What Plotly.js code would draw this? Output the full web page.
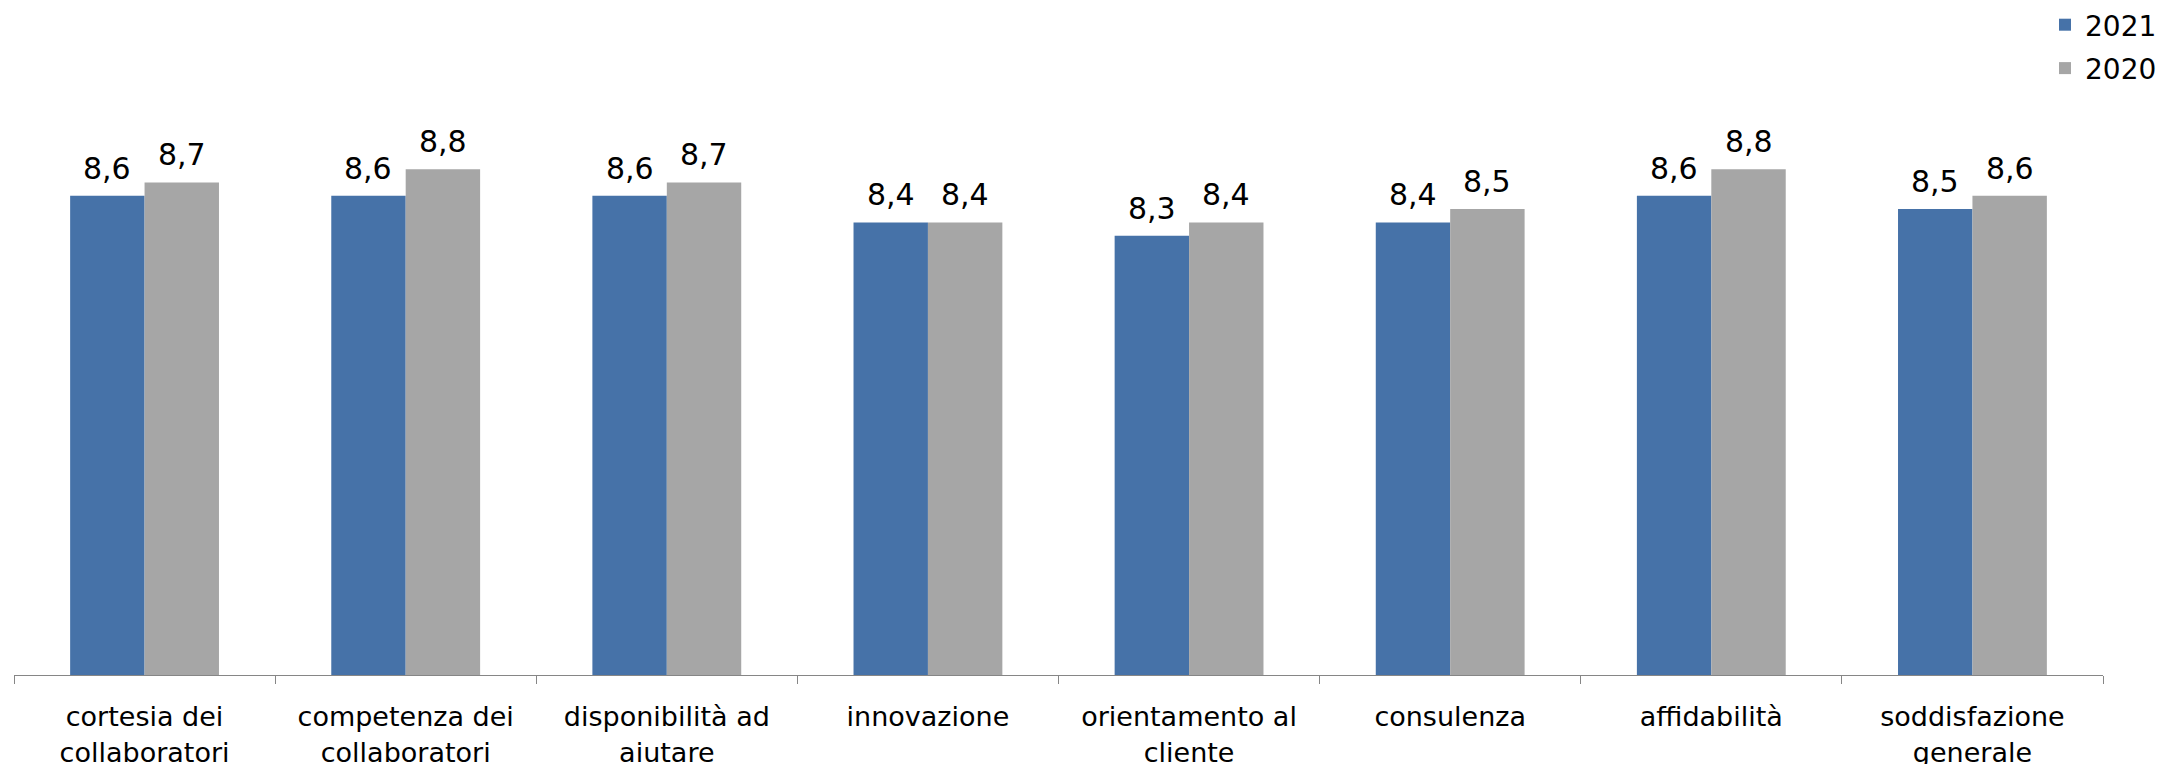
<!DOCTYPE html>
<html>
<head>
<meta charset="utf-8">
<script src="https://cdn.plot.ly/plotly-3.0.1.min.js"></script>
<style>html,body{margin:0;padding:0;background:#fff;}#chart{width:2162px;height:764px;}</style>
</head>
<body>
<div id="chart"></div>
<script>
const categories = ["cortesia dei<br>collaboratori", "competenza dei<br>collaboratori", "disponibilità ad<br>aiutare", "innovazione", "orientamento al<br>cliente", "consulenza", "affidabilità", "soddisfazione<br>generale"];
const values2021 = [8.6, 8.6, 8.6, 8.4, 8.3, 8.4, 8.6, 8.5];
const values2020 = [8.7, 8.8, 8.7, 8.4, 8.4, 8.5, 8.8, 8.6];
const seriesNames = ["2021", "2020"];

const fmt = v => v.toFixed(1).replace('.', ',');
const FONT = "DejaVu Sans, Verdana, sans-serif";
const labelFont = {family: FONT, size: 30, color: "#000"};

const W = 2162, H = 764;
const margin = {l: 14, r: 59, t: 76, b: 89, autoexpand: false};
const bargap = 0.43;
const plotW = W - margin.l - margin.r;
const barW = plotW / categories.length * (1 - bargap) / 2;

const traces = [
  {type: "bar", name: seriesNames[0], legendgroup: "a", x: categories, y: values2021, marker: {color: "#4672A8"}, hoverinfo: "none"},
  {type: "bar", name: seriesNames[1], legendgroup: "b", x: categories, y: values2020, marker: {color: "#A6A6A6"}, hoverinfo: "none"}
];

const annotations = [];
[values2021, values2020].forEach((vals, s) => {
  vals.forEach((v, i) => {
    annotations.push({xref: "x", yref: "y", x: i, y: v, text: fmt(v), showarrow: false,
      xanchor: "center", yanchor: "bottom", xshift: (s === 0 ? -1 : 1) * barW / 2, yshift: 8,
      font: labelFont});
  });
});

const layout = {
  width: W, height: H,
  margin: margin,
  paper_bgcolor: "#fff", plot_bgcolor: "#fff",
  barmode: "group", bargap: bargap, bargroupgap: 0,
  showlegend: true,
  annotations: annotations,
  legend: {xref: "container", yref: "container", x: 1, xanchor: "right", y: 1, yanchor: "top",
           font: {family: FONT, size: 28, color: "#000"},
           traceorder: "grouped", tracegroupgap: 4, itemwidth: 30, bgcolor: "rgba(0,0,0,0)"},
  xaxis: {type: "category", tickson: "boundaries", ticks: "outside", ticklen: 8, tickcolor: "#868686",
          showline: true, linecolor: "#868686", linewidth: 1, showgrid: false, ticklabelstandoff: 18,
          tickfont: {family: FONT, size: 27, color: "#000"}},
  yaxis: {range: [5, 9.5], visible: false, showgrid: false, zeroline: false},
  font: {family: FONT}
};

Plotly.newPlot("chart", traces, layout, {staticPlot: true, displayModeBar: false});
</script>
</body>
</html>
